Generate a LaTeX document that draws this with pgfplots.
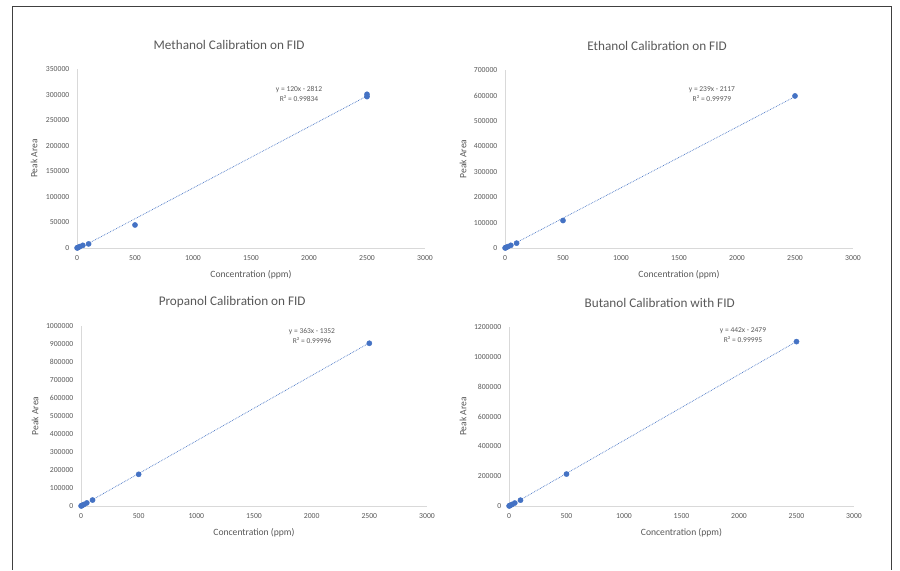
\documentclass[border=0pt]{standalone}
\usepackage{pgfplots}
\pgfplotsset{compat=1.18}
\usepackage{fontspec}
\setmainfont{Carlito}
\definecolor{txt}{HTML}{595959}
\definecolor{axc}{HTML}{D9D9D9}
\definecolor{mk}{HTML}{4472C4}
\pgfplotsset{calib/.style={
  scale only axis, anchor=south west,
  axis lines=left, axis line style={axc, -, line width=0.8pt},
  xmin=0, xmax=3000, xtick={0,500,...,3000}, ymin=0,
  enlargelimits=false,
  tick style={draw=none},
  ticklabel style={font=\fontsize{7.7}{8}\selectfont, text=txt},
  xticklabel style={yshift=-2pt},
  yticklabel style={xshift=-2pt},
  /pgf/number format/assume math mode=true,
  /pgf/number format/fixed,
  /pgf/number format/precision=0,
  /pgf/number format/1000 sep={},
  scaled ticks=false,
  title style={at={(axis description cs:0.437,1)}, anchor=center, yshift=18pt, font=\fontsize{13.2}{14}\selectfont, text=txt},
  xlabel style={at={(axis description cs:0.5,0)}, anchor=center, yshift=-27pt, font=\fontsize{9.6}{10}\selectfont, text=txt},
  ylabel style={at={(axis description cs:0,0.5)}, anchor=center, font=\fontsize{9.6}{10}\selectfont, text=txt},
  xlabel={Concentration (ppm)}, ylabel={Peak Area},
}}
\newcommand{\eqnode}[3]{\node[align=center, font=\fontsize{7.5}{10}\selectfont, text=txt, inner sep=0pt] at (axis cs:#1) {#2\\#3};}
\begin{document}
\begin{tikzpicture}
\fill[white] (0pt,0pt) rectangle (900pt,570pt);
\draw[black!75, line width=1pt] (12pt,0pt) -- (12pt,563pt) -- (891pt,563pt) -- (891pt,0pt);

% Methanol
\begin{axis}[calib, at={(77pt,322pt)}, width=348pt, height=179pt, ymax=350000,
  ytick={0,50000,...,350000}, title={Methanol Calibration on FID},
  ylabel style={yshift=43pt}]
\addplot[mk, densely dotted, line width=0.7pt] coordinates {(1,-2692) (2500,297188)};
\addplot[only marks, mark=*, mark size=2.6pt, mk] coordinates {
(1,150) (5,600) (10,1200) (25,2800) (50,5200) (100,8000) (500,45000) (2500,296000) (2500,300500)};
\eqnode{1914,301000}{y = 120x - 2812}{R² = 0.99834}
\end{axis}

% Ethanol
\begin{axis}[calib, at={(505pt,322pt)}, width=348pt, height=178pt, ymax=700000,
  ytick={0,100000,...,700000}, title={Ethanol Calibration on FID},
  ylabel style={yshift=42pt}]
\addplot[mk, densely dotted, line width=0.7pt] coordinates {(1,-1878) (2500,595383)};
\addplot[only marks, mark=*, mark size=2.6pt, mk] coordinates {
(1,250) (5,1100) (10,2300) (25,5500) (50,10500) (100,19000) (500,108000) (2500,598000)};
\eqnode{1784,605600}{y = 239x - 2117}{R² = 0.99979}
\end{axis}

% Propanol
\begin{axis}[calib, at={(81pt,64pt)}, width=346pt, height=180pt, ymax=1000000,
  ytick={0,100000,...,1000000}, title={Propanol Calibration on FID},
  ylabel style={yshift=46pt}]
\addplot[mk, densely dotted, line width=0.7pt] coordinates {(1,-989) (2500,906148)};
\addplot[only marks, mark=*, mark size=2.6pt, mk] coordinates {
(1,350) (5,1700) (10,3500) (25,8500) (50,17000) (100,33000) (500,176000) (2500,904000)};
\eqnode{2003,941700}{y = 363x - 1352}{R² = 0.99996}
\end{axis}

% Butanol
\begin{axis}[calib, at={(509pt,64pt)}, width=345pt, height=179pt, ymax=1200000,
  ytick={0,200000,...,1200000}, title={Butanol Calibration with FID},
  ylabel style={yshift=46pt}]
\addplot[mk, densely dotted, line width=0.7pt] coordinates {(1,-2037) (2500,1102521)};
\addplot[only marks, mark=*, mark size=2.6pt, mk] coordinates {
(1,400) (5,2000) (10,4200) (25,10000) (50,20000) (100,39000) (500,214000) (2500,1102000)};
\eqnode{2035,1146000}{y = 442x - 2479}{R² = 0.99995}
\end{axis}
\end{tikzpicture}
\end{document}
